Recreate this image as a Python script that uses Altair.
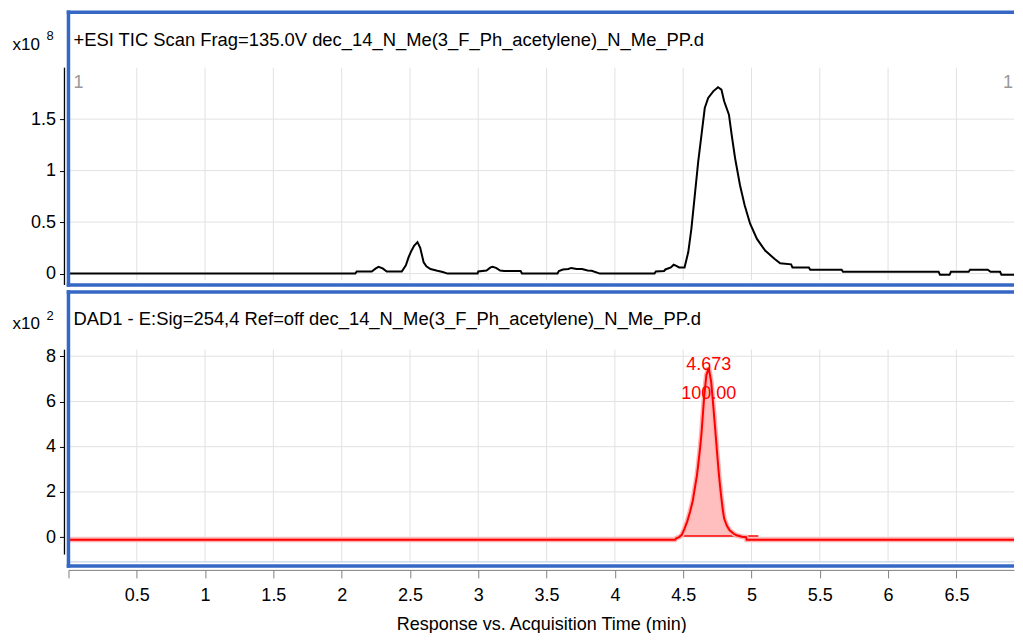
import altair as alt
import pandas as pd

# ---------------- data ----------------
tic_time = [0.0, 2.10, 2.11, 2.22, 2.25, 2.27, 2.30, 2.33, 2.44, 2.47, 2.49, 2.51, 2.53, 2.555,
            2.575, 2.60, 2.62, 2.65, 2.70, 2.74, 2.775, 2.995, 3.0, 3.06, 3.09, 3.105, 3.13, 3.16,
            3.19, 3.31, 3.32, 3.58, 3.59, 3.62, 3.66, 3.68, 3.72, 3.76, 3.80, 3.83, 3.88, 3.89,
            4.29, 4.30, 4.36, 4.37, 4.41, 4.43, 4.45, 4.47, 4.51, 4.537, 4.56, 4.585, 4.61, 4.634,
            4.658, 4.683, 4.72, 4.755, 4.78, 4.80, 4.835, 4.855, 4.88, 4.916, 4.95, 4.99, 5.04,
            5.10, 5.17, 5.21, 5.29, 5.30, 5.42, 5.43, 5.66, 5.67, 6.37, 6.38, 6.45, 6.46, 6.59,
            6.60, 6.73, 6.75, 6.82, 6.83, 6.93, 6.94, 6.99]
tic_value = [0.0, 0.0, 0.02, 0.02, 0.05, 0.066, 0.05, 0.02, 0.02, 0.08, 0.16, 0.22, 0.27, 0.305,
             0.25, 0.11, 0.07, 0.044, 0.027, 0.015, 0.0, 0.0, 0.02, 0.03, 0.06, 0.066, 0.055, 0.03,
             0.025, 0.025, 0.0, 0.0, 0.025, 0.04, 0.045, 0.055, 0.045, 0.045, 0.03, 0.027, 0.005, 0.0,
             0.0, 0.02, 0.025, 0.04, 0.06, 0.086, 0.075, 0.06, 0.06, 0.207, 0.435, 0.76, 1.087, 1.347,
             1.608, 1.706, 1.77, 1.81, 1.787, 1.673, 1.543, 1.347, 1.12, 0.858, 0.663, 0.484, 0.337,
             0.223, 0.142, 0.10, 0.09, 0.06, 0.06, 0.037, 0.037, 0.018, 0.018, -0.012, -0.012, 0.018, 0.018,
             0.037, 0.037, 0.018, 0.018, -0.012, -0.012, 0.018, 0.018]

dad_time = [0.0, 4.44, 4.45, 4.47, 4.49, 4.51, 4.53, 4.55, 4.57, 4.585, 4.60, 4.61, 4.625, 4.635,
            4.645, 4.655, 4.67, 4.687, 4.705, 4.72, 4.73, 4.74, 4.75, 4.76, 4.77, 4.78, 4.79, 4.80,
            4.82, 4.84, 4.87, 4.89, 4.93, 4.96, 4.965, 6.99]
dad_value = [-0.12, -0.12, -0.05, 0.0, 0.1, 0.38, 0.7, 1.11, 1.6, 2.15, 2.7, 3.18, 4.0, 4.65,
             5.5, 6.3, 7.16, 7.49, 6.87, 5.83, 5.1, 4.36, 3.6, 2.88, 2.25, 1.7, 1.2, 0.82,
             0.5, 0.30, 0.15, 0.08, 0.02, 0.0, -0.12, -0.12]

peak_rt = 4.687
peak_height = 7.49
peak_label_rt = "4.673"
peak_label_area = "100.00"
integ_start, integ_end, integ_level = 4.46, 5.05, 0.05

x_ticks = [0, 0.5, 1, 1.5, 2, 2.5, 3, 3.5, 4, 4.5, 5, 5.5, 6, 6.5]
tic_yticks = [0, 0.5, 1, 1.5]
dad_yticks = [0, 2, 4, 6, 8]

tic_header = "+ESI TIC Scan Frag=135.0V dec_14_N_Me(3_F_Ph_acetylene)_N_Me_PP.d"
dad_header = "DAD1 - E:Sig=254,4  Ref=off dec_14_N_Me(3_F_Ph_acetylene)_N_Me_PP.d"
x_title = "Response vs. Acquisition Time (min)"

# ---------------- style ----------------
FONT = "Liberation Sans"
BLUE = "#3468c4"
GRID = "#e2e2e2"
W = 946
H1 = 273
H2 = 274
BW = 1.75  # half border width
XMAX = 946 / 136.67
TIC_DOM = [-0.111, 2.539]
DAD_DOM = [-1.271, 10.840]

tic_df = pd.DataFrame({"t": tic_time, "v": tic_value})
dad_df = pd.DataFrame({"t": dad_time, "v": dad_value})
peak_df = dad_df[(dad_df.t >= integ_start) & (dad_df.t <= 4.96)].copy()
peak_df["base"] = integ_level
one = pd.DataFrame({"a": [0]})

xs = alt.Scale(domain=[0, XMAX], nice=False, zero=False)


def panel(df, ydom, yticks, grid_top, grid_bot, axis_bot, H, header, exp, trace_color, bottom):
    ys = alt.Scale(domain=ydom, nice=False, zero=False)
    xg = pd.DataFrame({"t": [v for v in x_ticks if v > 0], "y1": grid_bot, "y2": grid_top})
    yg = pd.DataFrame({"v": yticks, "x1": 0, "x2": XMAX})

    if bottom:
        xaxis = alt.Axis(values=x_ticks, labelExpr="datum.value == 0 ? '' : datum.label",
                         grid=False, domainColor="#808080", tickColor="#808080", tickSize=8,
                         offset=4, labelFontSize=18, labelPadding=9, title=x_title,
                         titleFontSize=18, titleFontWeight="normal", titlePadding=11,
                         labelFont=FONT, titleFont=FONT, labelColor="black", titleColor="black",
                         format="~g")
    else:
        xaxis = None

    vgrid = alt.Chart(xg).mark_rule(color=GRID, strokeWidth=1).encode(
        x=alt.X("t:Q", scale=xs, axis=xaxis), y=alt.Y("y1:Q", scale=ys), y2="y2:Q")
    hgrid = alt.Chart(yg).mark_rule(color=GRID, strokeWidth=1).encode(
        y=alt.Y("v:Q", scale=ys,
                axis=alt.Axis(values=yticks, grid=False, domain=False, tickColor="black",
                              tickSize=5, offset=4, labelFontSize=18, labelPadding=4,
                              labelFont=FONT, labelColor="black", title=None, format="~g")),
        x=alt.X("x1:Q", scale=xs), x2="x2:Q")

    yline = alt.Chart(one).mark_rule(color="black", strokeWidth=1.3).encode(
        x=alt.value(-4), y=alt.datum(axis_bot), y2=alt.datum(grid_top))

    # frame drawn as thin filled bands (top, bottom, left)
    border_top = alt.Chart(one).mark_rect(color=BLUE).encode(
        x=alt.value(-BW), x2=alt.value(W), y=alt.value(-BW), y2=alt.value(BW))
    border_bot = alt.Chart(one).mark_rect(color=BLUE).encode(
        x=alt.value(-BW), x2=alt.value(W), y=alt.value(H - BW), y2=alt.value(H + BW))
    border_left = alt.Chart(one).mark_rect(color=BLUE).encode(
        x=alt.value(-BW), x2=alt.value(BW), y=alt.value(-BW), y2=alt.value(H + BW))

    head = alt.Chart(one).mark_text(align="left", baseline="middle", fontSize=18.4, font=FONT,
                                    color="black").encode(
        x=alt.value(5), y=alt.value(27.5), text=alt.value(header))
    x10 = alt.Chart(one).mark_text(align="left", baseline="middle", fontSize=17, font=FONT,
                                   color="black").encode(
        x=alt.value(-56), y=alt.value(32.5), text=alt.value("x10"))
    sup = alt.Chart(one).mark_text(align="left", baseline="middle", fontSize=13, font=FONT,
                                   color="black").encode(
        x=alt.value(-22), y=alt.value(24), text=alt.value(exp))

    layers = [vgrid, hgrid]
    if bottom:
        fill = alt.Chart(peak_df).mark_area(color="#ffbcbc", opacity=0.95).encode(
            x=alt.X("t:Q", scale=xs), y=alt.Y("v:Q", scale=ys), y2="base:Q")
        integ = alt.Chart(pd.DataFrame({"t1": [integ_start], "t2": [integ_end], "v": [integ_level]})
                          ).mark_rule(color="#ff0000", strokeWidth=1.5).encode(
            x=alt.X("t1:Q", scale=xs), x2="t2:Q", y=alt.Y("v:Q", scale=ys))
        halo = alt.Chart(df).mark_line(color="#ffb0b0", strokeWidth=5, clip=True).encode(
            x=alt.X("t:Q", scale=xs), y=alt.Y("v:Q", scale=ys))
        line = alt.Chart(df).mark_line(color=trace_color, strokeWidth=2, clip=True).encode(
            x=alt.X("t:Q", scale=xs), y=alt.Y("v:Q", scale=ys))
        lab_df = pd.DataFrame({"t": [peak_rt], "v": [peak_height],
                               "l1": [peak_label_rt], "l2": [peak_label_area]})
        lab1 = alt.Chart(lab_df).mark_text(color="#ff0000", fontSize=18, font=FONT, dy=-3).encode(
            x=alt.X("t:Q", scale=xs), y=alt.Y("v:Q", scale=ys), text="l1:N")
        lab2 = alt.Chart(lab_df).mark_text(color="#ff0000", fontSize=18, font=FONT, dy=26).encode(
            x=alt.X("t:Q", scale=xs), y=alt.Y("v:Q", scale=ys), text="l2:N")
        inner = alt.Chart(one).mark_rule(color="#b8c8e0", strokeWidth=1).encode(
            x=alt.value(0), x2=alt.value(W), y=alt.value(H - 4))
        layers += [inner, fill, integ, halo, line, lab1, lab2]
    else:
        line = alt.Chart(df).mark_line(color=trace_color, strokeWidth=2, clip=True).encode(
            x=alt.X("t:Q", scale=xs), y=alt.Y("v:Q", scale=ys))
        m1 = alt.Chart(one).mark_text(align="left", baseline="middle", fontSize=18, font=FONT,
                                      color="#999999").encode(
            x=alt.value(5), y=alt.value(71), text=alt.value("1"))
        m2 = alt.Chart(one).mark_text(align="right", baseline="middle", fontSize=18, font=FONT,
                                      color="#999999").encode(
            x=alt.value(W - 1), y=alt.value(71), text=alt.value("1"))
        layers += [line, m1, m2]

    layers += [yline, border_top, border_bot, border_left, head, x10, sup]
    return alt.layer(*layers).properties(width=W, height=H)


top = panel(tic_df, TIC_DOM, tic_yticks, 2.0, -0.065, -0.111, H1, tic_header, "8", "black", False)
bot = panel(dad_df, DAD_DOM, dad_yticks, 8.29, -1.07, -0.77, H2, dad_header, "2", "#ff0000", True)

chart = alt.vconcat(top, bot, spacing=3).properties(
    padding={"left": 4.5, "top": 2, "right": 0, "bottom": -1}
).configure(font=FONT).configure_view(strokeWidth=0)

chart.save("out.html", embed_options={"renderer": "svg", "actions": False})
